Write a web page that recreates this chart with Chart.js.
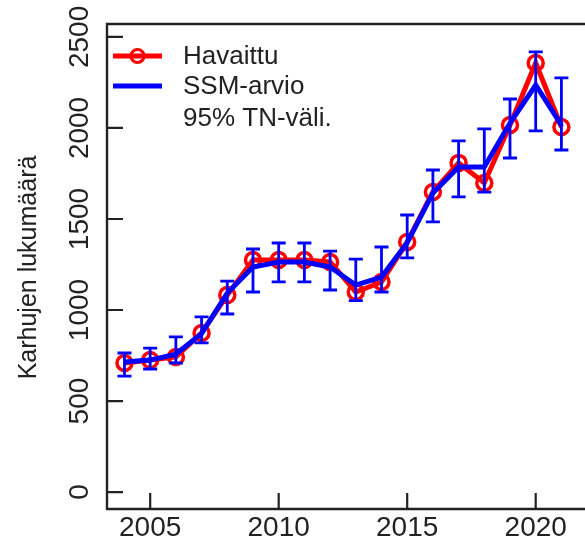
<!DOCTYPE html>
<html>
<head>
<meta charset="utf-8">
<script src="https://cdn.jsdelivr.net/npm/chart.js@4/dist/chart.umd.min.js"></script>
<style>
html,body{margin:0;padding:0;background:#fff;overflow:hidden;}
#wrap{width:585px;height:545px;}
</style>
</head>
<body>
<div id="wrap"><canvas id="c" width="585" height="545"></canvas></div>
<script>
const years = [2004,2005,2006,2007,2008,2009,2010,2011,2012,2013,2014,2015,2016,2017,2018,2019,2020,2021];
const observed = [709,725,742,874,1082,1275,1275,1275,1264,1099,1154,1374,1648,1808,1698,2016,2357,2005];
const estimate = [714,725,758,870,1093,1236,1264,1264,1236,1137,1181,1370,1643,1786,1786,2027,2236,2016];
const lower = [637,676,709,819,978,1099,1154,1154,1110,1052,1099,1286,1484,1621,1648,1835,1984,1879];
const upper = [764,791,852,962,1159,1335,1368,1368,1324,1280,1346,1522,1769,1929,1995,2159,2418,2275];
const xTicks = [2005,2010,2015,2020];
const yTicks = [0,500,1000,1500,2000,2500];
const yTitle = 'Karhujen lukumäärä';
const legendLabels = ['Havaittu','SSM-arvio','95% TN-väli.'];

const RED = '#ff0000', BLUE = '#0000ff', INK = '#222222';
const FONT = '"Liberation Sans", Arial, sans-serif';

const decor = {
  id: 'decor',
  afterDatasetsDraw(chart) {
    const ctx = chart.ctx, x = chart.scales.x, y = chart.scales.y;
    ctx.save();
    ctx.strokeStyle = BLUE; ctx.lineWidth = 2.8;
    years.forEach((yr, i) => {
      const px = x.getPixelForValue(yr);
      const lo = y.getPixelForValue(lower[i]), hi = y.getPixelForValue(upper[i]);
      ctx.beginPath();
      ctx.moveTo(px, lo); ctx.lineTo(px, hi);
      ctx.moveTo(px - 7, lo); ctx.lineTo(px + 7, lo);
      ctx.moveTo(px - 7, hi); ctx.lineTo(px + 7, hi);
      ctx.stroke();
    });
    ctx.restore();
  },
  afterDraw(chart) {
    const ctx = chart.ctx, x = chart.scales.x, y = chart.scales.y, a = chart.chartArea;
    ctx.save();
    ctx.strokeStyle = INK; ctx.lineWidth = 2.4;
    ctx.beginPath();
    ctx.moveTo(chart.width + 5, a.top); ctx.lineTo(a.left, a.top);
    ctx.lineTo(a.left, a.bottom); ctx.lineTo(chart.width + 5, a.bottom);
    ctx.stroke();
    ctx.lineWidth = 2.2;
    ctx.beginPath();
    xTicks.forEach(v => { const px = x.getPixelForValue(v); ctx.moveTo(px, a.bottom); ctx.lineTo(px, a.bottom - 16); });
    yTicks.forEach(v => { const py = y.getPixelForValue(v); ctx.moveTo(a.left, py); ctx.lineTo(a.left + 16, py); });
    ctx.stroke();
    ctx.fillStyle = INK; ctx.font = '28px ' + FONT;
    ctx.textAlign = 'center'; ctx.textBaseline = 'alphabetic';
    yTicks.forEach(v => {
      const py = y.getPixelForValue(v);
      ctx.save(); ctx.translate(88, py); ctx.rotate(-Math.PI / 2);
      ctx.fillText(String(v), 0, 0); ctx.restore();
    });
    ctx.font = '25px ' + FONT;
    ctx.save(); ctx.translate(36, (a.top + a.bottom) / 2 + 1); ctx.rotate(-Math.PI / 2);
    ctx.fillText(yTitle, 0, 0); ctx.restore();
    const lx0 = 113, lx1 = 162, tx = 183, rows = [56, 86, 118];
    ctx.lineWidth = 5;
    ctx.strokeStyle = RED;
    ctx.beginPath(); ctx.moveTo(lx0, rows[0]); ctx.lineTo(lx1, rows[0]); ctx.stroke();
    ctx.lineWidth = 3.2;
    ctx.beginPath(); ctx.arc((lx0 + lx1) / 2, rows[0], 6.5, 0, Math.PI * 2); ctx.stroke();
    ctx.lineWidth = 5; ctx.strokeStyle = BLUE;
    ctx.beginPath(); ctx.moveTo(lx0, rows[1]); ctx.lineTo(lx1, rows[1]); ctx.stroke();
    ctx.font = '26px ' + FONT; ctx.textAlign = 'left'; ctx.textBaseline = 'middle';
    legendLabels.forEach((t, i) => ctx.fillText(t, tx, rows[i] + 1));
    ctx.restore();
  }
};

new Chart(document.getElementById('c'), {
  type: 'line',
  data: {
    labels: years,
    datasets: [
      {
        label: legendLabels[0],
        data: years.map((yr, i) => ({x: yr, y: observed[i]})),
        borderColor: RED, borderWidth: 5,
        pointStyle: 'circle', pointRadius: 7.5, pointBorderWidth: 3.5,
        pointBorderColor: RED, pointBackgroundColor: 'rgba(0,0,0,0)',
        tension: 0, order: 2
      },
      {
        label: legendLabels[1],
        data: years.map((yr, i) => ({x: yr, y: estimate[i]})),
        borderColor: BLUE, borderWidth: 5, pointRadius: 0,
        tension: 0, order: 1
      }
    ]
  },
  options: {
    responsive: false, animation: false,
    layout: {padding: {top: 24, left: 0, right: 0, bottom: 0}},
    plugins: {legend: {display: false}, tooltip: {enabled: false}},
    scales: {
      x: {
        type: 'linear', min: 2003.32, max: 2021.49,
        grid: {display: false, drawTicks: false}, border: {display: false},
        afterBuildTicks: s => { s.ticks = xTicks.map(v => ({value: v})); },
        afterFit: s => { s.height = 36; },
        ticks: {color: INK, font: {family: FONT, size: 28}, padding: 2, maxRotation: 0, autoSkip: false,
                callback: v => String(v)}
      },
      y: {
        type: 'linear', min: -93, max: 2571,
        grid: {display: false, drawTicks: false}, border: {display: false},
        afterBuildTicks: s => { s.ticks = yTicks.map(v => ({value: v})); },
        afterFit: s => { s.width = 107; },
        ticks: {display: false}
      }
    }
  },
  plugins: [decor]
});
</script>
</body>
</html>
